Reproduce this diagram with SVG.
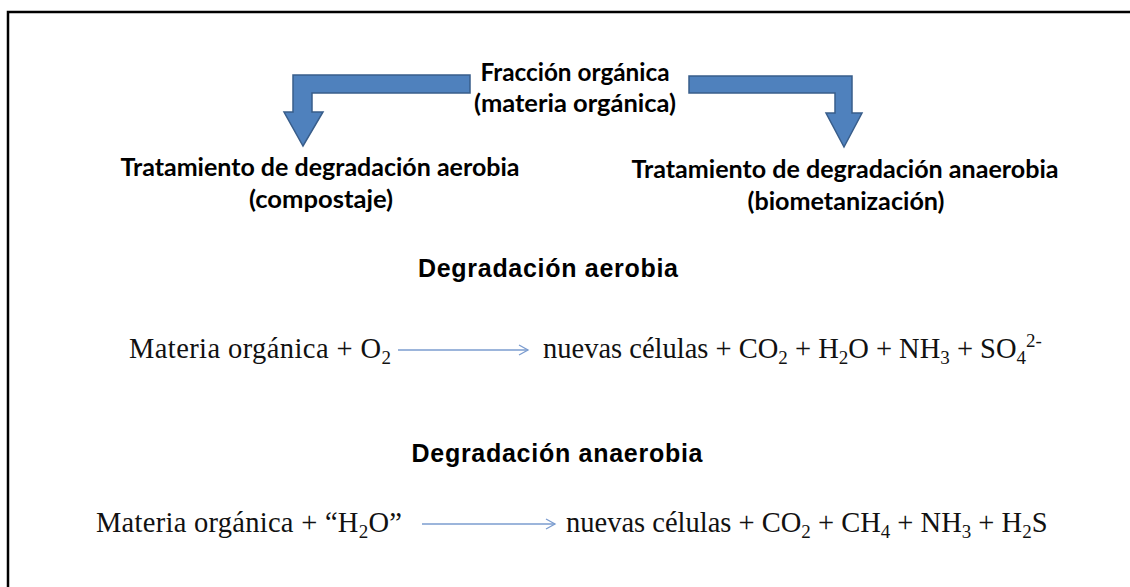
<svg xmlns="http://www.w3.org/2000/svg" width="1130" height="587" viewBox="0 0 1130 587">
<style>
.h{font-family:Lato,"Open Sans",sans-serif;font-weight:bold;font-size:24.5px;fill:#000;text-anchor:middle}
.t{font-family:"Liberation Sans",Arial,sans-serif;font-weight:bold;font-size:25px;fill:#000;text-anchor:middle}
.e{font-family:"Liberation Serif","DejaVu Serif",serif;font-size:28.5px;fill:#111}
.s{font-size:19px}
.ba{fill:#4f81bd;stroke:#385d8a;stroke-width:1.5;stroke-linejoin:miter}
.ra{stroke:#7b9ccf;stroke-width:1.3;fill:none}
</style>
<defs>
<marker id="chev" markerWidth="12" markerHeight="12" refX="10" refY="6" orient="auto" markerUnits="userSpaceOnUse">
<path d="M1,1 L10,6 L1,11" fill="none" stroke="#7b9ccf" stroke-width="1.3"/>
</marker>
</defs>
<rect width="1130" height="587" fill="#fff"/>
<path d="M8,587 V12 H1130" fill="none" stroke="#000" stroke-width="2.5"/>
<g id="connectors">
<path class="ba" d="M470,75 V93 H312 V112 H323 L303,146 L284,112 H293 V75 Z"/>
<path class="ba" d="M689,76 V93 H835 V113 H826 L844,147 L862,113 H852 V76 Z"/>
<line class="ra" x1="398" y1="350" x2="528" y2="350" marker-end="url(#chev)"/>
<line class="ra" x1="422" y1="524" x2="555" y2="524" marker-end="url(#chev)"/>
</g>
<g id="fraccion">
<text class="h" x="575" y="81" textLength="189" lengthAdjust="spacingAndGlyphs">Fracción orgánica</text>
<text class="h" x="575" y="112" textLength="202" lengthAdjust="spacingAndGlyphs">(materia orgánica)</text>
</g>
<g id="aerobio">
<text class="h" x="320" y="176" textLength="399" lengthAdjust="spacingAndGlyphs">Tratamiento de degradación aerobia</text>
<text class="h" x="321" y="208" textLength="144" lengthAdjust="spacingAndGlyphs">(compostaje)</text>
</g>
<g id="anaerobio">
<text class="h" x="845" y="178" textLength="427" lengthAdjust="spacingAndGlyphs">Tratamiento de degradación anaerobia</text>
<text class="h" x="846" y="210" textLength="197" lengthAdjust="spacingAndGlyphs">(biometanización)</text>
</g>
<g id="titulo-aerobia">
<text class="t" x="548" y="277" textLength="260" lengthAdjust="spacing">Degradación aerobia</text>
</g>
<g id="ecuacion-aerobia">
<text class="e" x="129" y="358" textLength="262" lengthAdjust="spacing">Materia orgánica + O<tspan class="s" dy="6">2</tspan></text>
<text class="e" x="543" y="358">nuevas células + CO<tspan class="s" dy="6">2</tspan><tspan dy="-6"> + H</tspan><tspan class="s" dy="6">2</tspan><tspan dy="-6">O + NH</tspan><tspan class="s" dy="6">3</tspan><tspan dy="-6"> + SO</tspan><tspan class="s" dy="6">4</tspan><tspan class="s" dy="-17">2-</tspan></text>
</g>
<g id="titulo-anaerobia">
<text class="t" x="557" y="462" textLength="291" lengthAdjust="spacing">Degradación anaerobia</text>
</g>
<g id="ecuacion-anaerobia">
<text class="e" x="96" y="532" textLength="306" lengthAdjust="spacing">Materia orgánica + “H<tspan class="s" dy="6">2</tspan><tspan dy="-6">O”</tspan></text>
<text class="e" x="566" y="532">nuevas células + CO<tspan class="s" dy="6">2</tspan><tspan dy="-6"> + CH</tspan><tspan class="s" dy="6">4</tspan><tspan dy="-6"> + NH</tspan><tspan class="s" dy="6">3</tspan><tspan dy="-6"> + H</tspan><tspan class="s" dy="6">2</tspan><tspan dy="-6">S</tspan></text>
</g>
</svg>
